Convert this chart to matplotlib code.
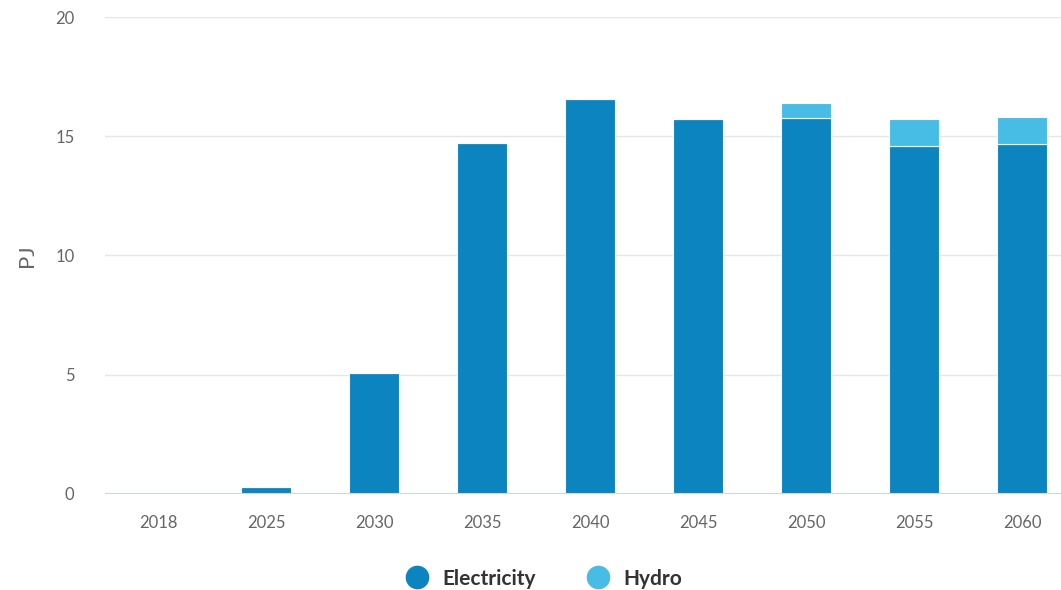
import matplotlib
matplotlib.use("Agg")
import matplotlib.pyplot as plt
from matplotlib.lines import Line2D

plt.rcParams['font.family'] = ['Lato', 'DejaVu Sans']

years = ["2018", "2025", "2030", "2035", "2040", "2045", "2050", "2055", "2060"]
electricity = [0.0, 0.28, 5.07, 14.72, 16.56, 15.72, 15.76, 14.59, 14.68]
hydro = [0.0, 0.0, 0.0, 0.0, 0.0, 0.0, 0.63, 1.13, 1.13]

c_elec = "#0b84bf"
c_hydro = "#47bde5"

fig = plt.figure(figsize=(10.61, 5.9), dpi=100)
ax = fig.add_axes([0.099, 0.163, 0.901, 0.808])

x = list(range(len(years)))
w = 0.46
ax.bar(x, electricity, width=w, color=c_elec, edgecolor="white", linewidth=0.8, zorder=3)
ax.bar(x, hydro, width=w, bottom=electricity, color=c_hydro, edgecolor="white", linewidth=0.8, zorder=3)

ax.set_xlim(-0.49, 8.36)
ax.set_ylim(0, 20)
ax.set_yticks([0, 5, 10, 15, 20])
ax.set_xticks(x)
ax.set_xticklabels(years)
ax.grid(axis="y", color="#e6e6e6", linewidth=1, zorder=0)
ax.axhline(0, color="#ccd6eb", linewidth=1.5, zorder=4)
for s in ax.spines.values():
    s.set_visible(False)
ax.tick_params(axis="both", length=0, labelsize=12, labelcolor="#666666")
ax.tick_params(axis="x", pad=15)
ax.tick_params(axis="y", pad=22)
ax.set_ylabel("PJ", fontsize=16, color="#666666", labelpad=13)

handles = [Line2D([], [], marker="o", linestyle="", markersize=16, color=c_elec),
           Line2D([], [], marker="o", linestyle="", markersize=16, color=c_hydro)]
fig.legend(handles, ["Electricity", "Hydro"], loc="center", bbox_to_anchor=(0.508, 0.019),
           ncol=2, frameon=False, prop={"weight": "bold", "size": 15},
           labelcolor="#333333", handletextpad=0.2, columnspacing=2.0)

fig.savefig("out.png", dpi=100)
